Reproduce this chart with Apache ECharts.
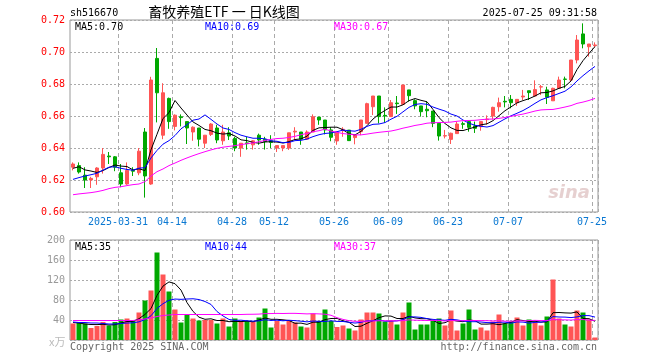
<!DOCTYPE html>
<html><head><meta charset="utf-8">
<script src="https://cdn.jsdelivr.net/npm/echarts@6/dist/echarts.min.js"></script>
<style>html,body{margin:0;padding:0;background:#fff}#c{width:660px;height:360px}</style>
</head><body><div id="c"></div>
<script>
const dates = ['2025-03-19','2025-03-20','2025-03-21','2025-03-24','2025-03-25','2025-03-26','2025-03-27','2025-03-28','2025-03-31',
'2025-04-01','2025-04-02','2025-04-03','2025-04-07','2025-04-08','2025-04-09','2025-04-10','2025-04-11','2025-04-14','2025-04-15','2025-04-16','2025-04-17','2025-04-18','2025-04-21','2025-04-22','2025-04-23','2025-04-24','2025-04-25','2025-04-28','2025-04-29','2025-04-30',
'2025-05-06','2025-05-07','2025-05-08','2025-05-09','2025-05-12','2025-05-13','2025-05-14','2025-05-15','2025-05-16','2025-05-19','2025-05-20','2025-05-21','2025-05-22','2025-05-23','2025-05-26','2025-05-27','2025-05-28','2025-05-29','2025-05-30',
'2025-06-03','2025-06-04','2025-06-05','2025-06-06','2025-06-09','2025-06-10','2025-06-11','2025-06-12','2025-06-13','2025-06-16','2025-06-17','2025-06-18','2025-06-19','2025-06-20','2025-06-23','2025-06-24','2025-06-25','2025-06-26','2025-06-27','2025-06-30',
'2025-07-01','2025-07-02','2025-07-03','2025-07-04','2025-07-07','2025-07-08','2025-07-09','2025-07-10','2025-07-11','2025-07-14','2025-07-15','2025-07-16','2025-07-17','2025-07-18','2025-07-21','2025-07-22','2025-07-23','2025-07-24','2025-07-25'];

const tickDates = ['2025-03-31','2025-04-14','2025-04-28','2025-05-12','2025-05-26','2025-06-09','2025-06-23','2025-07-07','2025-07-25'];
const tickLabels = ['2025-03-31','04-14','04-28','05-12','05-26','06-09','06-23','07-07','07-25'];

const openP = [0.628,0.629,0.623,0.620,0.622,0.6275,0.635,0.6345,0.6245,0.6175,
0.626,0.6245,0.650,0.6175,0.696,0.648,0.671,0.6535,0.6595,0.6565,
0.650,0.6525,0.643,0.6485,0.6525,0.6445,0.6495,0.646,0.640,0.6432,
0.642,0.648,0.6455,0.6445,0.640,0.640,0.640,0.650,0.650,0.6455,
0.650,0.6593,0.6575,0.6513,0.6444,0.6508,0.6512,0.6465,0.6502,0.6554,
0.6658,0.6725,0.6604,0.6596,0.6681,0.6673,0.6763,0.6696,0.6663,0.6642,
0.6631,0.6554,0.6475,0.6454,0.649,0.6552,0.6565,0.6538,0.6533,0.6577,
0.660,0.6658,0.6692,0.6704,0.6683,0.6719,0.6758,0.6725,0.6781,0.6763,
0.6695,0.6773,0.6831,0.6825,0.695,0.7113,0.7033,0.704];
const closeP = [0.630,0.625,0.620,0.621,0.6275,0.636,0.6345,0.628,0.6175,0.626,
0.6255,0.638,0.6225,0.6825,0.6745,0.6745,0.6565,0.6605,0.659,0.6525,
0.653,0.6455,0.648,0.655,0.645,0.650,0.6475,0.640,0.643,0.6427,
0.6445,0.645,0.644,0.6435,0.6415,0.6415,0.6495,0.6505,0.6455,0.650,
0.6595,0.6575,0.6513,0.6467,0.650,0.6517,0.6446,0.6481,0.6575,0.6677,
0.6725,0.6596,0.660,0.6683,0.6677,0.6794,0.6727,0.6663,0.6627,0.6633,
0.6554,0.6475,0.6477,0.6492,0.655,0.6548,0.6529,0.6523,0.6565,0.6581,
0.6654,0.6683,0.6688,0.6683,0.6704,0.6725,0.6746,0.6765,0.6783,0.6717,
0.6773,0.6825,0.6829,0.695,0.7075,0.705,0.705,0.7044];
const lowP = [0.626,0.624,0.615,0.615,0.617,0.624,0.630,0.6255,0.6155,0.617,
0.6225,0.623,0.609,0.617,0.656,0.6455,0.652,0.651,0.6535,0.6425,
0.6445,0.641,0.640,0.6475,0.643,0.642,0.645,0.638,0.6345,0.639,
0.639,0.642,0.639,0.640,0.6375,0.638,0.6388,0.645,0.642,0.645,
0.650,0.6545,0.6485,0.6442,0.642,0.647,0.6445,0.6423,0.648,0.6554,
0.6606,0.6554,0.6558,0.6596,0.6613,0.6673,0.669,0.6642,0.6596,0.6592,
0.653,0.6446,0.646,0.6425,0.649,0.652,0.6502,0.6494,0.6508,0.6546,
0.6579,0.6627,0.6654,0.6648,0.6663,0.670,0.670,0.6725,0.6731,0.6675,
0.6695,0.6773,0.6773,0.6813,0.6929,0.7023,0.6971,0.7029];
const highP = [0.631,0.631,0.628,0.622,0.628,0.640,0.6375,0.635,0.630,0.631,
0.628,0.640,0.6525,0.6845,0.7025,0.6805,0.6715,0.661,0.661,0.6565,
0.6535,0.6525,0.648,0.6555,0.6545,0.6545,0.653,0.647,0.643,0.647,
0.645,0.649,0.647,0.648,0.6415,0.6415,0.6495,0.653,0.650,0.651,
0.661,0.6593,0.6575,0.653,0.650,0.653,0.6512,0.6481,0.6575,0.6683,
0.6725,0.6725,0.6654,0.670,0.6725,0.6794,0.6763,0.6704,0.6663,0.669,
0.6631,0.6554,0.6513,0.6496,0.6565,0.6565,0.6568,0.6565,0.6565,0.6604,
0.6658,0.6715,0.6725,0.6731,0.6704,0.6763,0.6758,0.6823,0.6794,0.6783,
0.6777,0.6846,0.6846,0.695,0.7106,0.7179,0.705,0.706];

const ma5 = [0.6273,0.6283,0.6263,0.6256,0.6247,0.6259,0.6278,0.6294,0.6287,0.6284,
0.6263,0.627,0.6259,0.6389,0.6486,0.6584,0.6621,0.6697,0.665,0.6606,
0.6563,0.6541,0.6516,0.6508,0.6493,0.6487,0.6491,0.6475,0.6451,0.6446,
0.6435,0.643,0.6438,0.6439,0.6437,0.6431,0.644,0.6453,0.6457,0.6474,
0.651,0.6526,0.6528,0.653,0.653,0.6514,0.6489,0.6482,0.6504,0.6539,
0.6581,0.6611,0.6635,0.6656,0.6656,0.667,0.6696,0.6709,0.6698,0.6689,
0.6641,0.659,0.6553,0.6526,0.651,0.6509,0.652,0.6531,0.6545,0.6551,
0.6571,0.6602,0.6633,0.6657,0.6682,0.6696,0.6708,0.6725,0.6745,0.6747,
0.6757,0.6773,0.6785,0.6819,0.689,0.6946,0.6991,0.7034];
const ma10 = [0.6204,0.6215,0.6225,0.6233,0.6242,0.6262,0.628,0.6283,0.6273,0.6266,
0.6261,0.6274,0.6277,0.6338,0.6385,0.6424,0.6446,0.6478,0.652,0.6546,
0.6574,0.6581,0.6607,0.6579,0.655,0.6525,0.6516,0.6496,0.648,0.647,
0.6461,0.6461,0.6457,0.6445,0.6442,0.6433,0.6435,0.6446,0.6448,0.6456,
0.6471,0.6483,0.6491,0.6494,0.6502,0.6512,0.6508,0.6505,0.6517,0.6535,
0.6548,0.655,0.6559,0.658,0.6598,0.6626,0.6654,0.6672,0.6677,0.6673,
0.6656,0.6643,0.6631,0.6612,0.66,0.6575,0.6555,0.6542,0.6536,0.6531,
0.654,0.6561,0.6582,0.6601,0.6617,0.6634,0.6655,0.6679,0.6701,0.6715,
0.6727,0.6741,0.6755,0.6782,0.6819,0.6852,0.6882,0.691];
const ma30 = [0.6108,0.6113,0.6117,0.6121,0.6127,0.6135,0.6146,0.6154,0.6158,0.6165,
0.6171,0.6175,0.619,0.6225,0.6252,0.6269,0.629,0.6306,0.6323,0.6338,
0.6352,0.6365,0.6377,0.6388,0.6398,0.6405,0.641,0.6415,0.6421,0.6427,
0.6432,0.6439,0.6447,0.6454,0.6459,0.6461,0.6466,0.6473,0.6483,0.6491,
0.6502,0.6508,0.6518,0.6506,0.6498,0.649,0.6486,0.6482,0.6482,0.6487,
0.6493,0.6498,0.6502,0.6506,0.6514,0.6524,0.6532,0.6541,0.6547,0.6555,
0.6558,0.6559,0.656,0.6562,0.6567,0.6571,0.6572,0.6573,0.6577,0.658,
0.6581,0.6585,0.6591,0.6598,0.6605,0.6612,0.6621,0.6631,0.6638,0.664,
0.6641,0.6648,0.6656,0.6665,0.6679,0.6687,0.6697,0.671];

const volume = [33,36,33,24,28,36,29,36,41,43,
38,55,79,99,175,131,97,61,35,50,
43,39,40,40,33,43,27,43,38,38,
36,45,63,25,38,31,38,35,27,25,
53,38,61,38,26,29,23,19,41,55,
55,53,37,39,31,55,75,21,31,31,
39,43,29,59,19,33,61,21,25,19,
37,51,33,37,45,29,41,35,29,47,
121,43,31,27,59,55,41,5];
const volMa5 = [35,34,32,31,30.8,31.4,30,30.6,34,37,
37.4,42.6,51.2,62.8,89.2,107.8,116.2,112.6,99.8,74.8,
57.2,45.6,41.4,42.4,39,39,36.6,37.2,36.8,37.8,
36.4,40,44,41.4,41.4,40.4,39,33.4,33.8,31.2,
35.6,35.6,40.8,43,43.2,38.4,35.4,27,27.6,33.4,
38.6,44.6,48.2,47.8,43,43,47.4,44.2,42.6,42.6,
39.4,33,34.6,40.2,37.8,36.6,40.2,38.6,31.8,31.8,
32.6,30.6,33,35.4,40.6,39,37,37.4,35.8,36.2,
54.6,55,54.2,53.8,56.2,43,42.6,37.4];
const volMa10 = [36,35,35,34,34,33,32,32,33,33.9,
34.4,36.3,40.9,48.4,63.1,72.6,79.4,81.9,81.3,82,
82.5,80.9,77,71.1,56.9,48.1,41.1,39.3,39.6,38.4,
37.7,38.3,40.6,39.1,39.6,38.4,39.5,38.7,37.6,36.3,
38,37.3,37.1,38.4,37.2,37,35.5,33.9,35.3,38.3,
38.5,40,37.6,37.7,38.2,40.8,46,46.2,45.2,42.8,
41.2,40.2,39.4,41.4,40.2,38,36.6,36.6,36,34.8,
34.6,35.4,35.8,33.6,36.2,35.8,33.8,35.2,35.6,38.4,
46.8,46,45.8,44.8,46.2,48.8,48.8,45.8];
const volMa30 = [39,39,39,39,39,39,39,39,39,39,
39,40.5,42,44,47,49,50,51,51,51,
51,51,51,51,51,51,51,51,51,51.4,
51.5,51.8,52.8,52.9,53.2,53,53.3,53.3,52.8,52.2,
52.7,52.2,51.6,49.5,44.6,41.2,38.7,37.3,37.5,37.7,
38.1,38.5,38.4,38.4,38.3,38.7,40.3,39.6,39.4,39.1,
39.2,39.2,38,39.2,38.5,38.6,39.4,38.9,38.8,38.6,
38.1,38.5,37.6,37.6,38.2,38.2,38.8,39.3,38.9,38.7,
40.9,40.5,40.3,39.9,40.9,40.9,39.7,39.2];

const UP = '#ff5555', DOWN = '#00a800';
const MONO = '"DejaVu Sans Mono", "Liberation Mono", monospace';
const isTick = (i) => tickDates.indexOf(dates[i]) >= 0;
const candles = dates.map((d, i) => [openP[i], closeP[i], lowP[i], highP[i]]);
const volBars = volume.map((v, i) => ({ value: v, itemStyle: { color: closeP[i] >= openP[i] ? UP : DOWN } }));

const chart = echarts.init(document.getElementById('c'), null, { renderer: 'canvas' });
const gridLine = { show: true, interval: (i) => isTick(i), lineStyle: { color: '#aaaaaa', type: [4, 3], width: 1 } };
const dotted = { show: true, lineStyle: { color: '#aaaaaa', type: [2, 2], width: 1 } };
function line(name, data, color, xi, yi) {
  return { name, type: 'line', data, xAxisIndex: xi, yAxisIndex: yi, symbol: 'none', silent: true,
    lineStyle: { color, width: 1 }, itemStyle: { color }, z: 5 };
}
function txt(text, x, y, fill, align, font) {
  return { type: 'text', silent: true, z: 100, style: { text, x, y, fill, textAlign: align || 'left', textVerticalAlign: 'middle', font: font || ('10px ' + MONO) } };
}
chart.setOption({
  animation: false,
  backgroundColor: '#ffffff',
  grid: [
    { left: 70, top: 20, width: 528, height: 192, show: true, borderColor: '#999', borderWidth: 1, backgroundColor: 'transparent' },
    { left: 70, top: 240, width: 528, height: 100, show: true, borderColor: '#999', borderWidth: 1, backgroundColor: 'transparent' }
  ],
  xAxis: [
    { type: 'category', gridIndex: 0, data: dates, boundaryGap: true,
      axisLine: { show: false }, axisTick: { show: false },
      axisLabel: { interval: (i) => isTick(i), formatter: (v) => tickLabels[tickDates.indexOf(v)], color: '#0a78d2', fontFamily: MONO, fontSize: 10, margin: 5, padding: [0, 6, 0, 0] },
      splitLine: gridLine },
    { type: 'category', gridIndex: 1, data: dates, boundaryGap: true,
      axisLine: { show: false }, axisTick: { show: false }, axisLabel: { show: false },
      splitLine: gridLine }
  ],
  yAxis: [
    { type: 'value', gridIndex: 0, min: 0.60, max: 0.72, interval: 0.02, scale: true,
      axisLine: { show: false }, axisTick: { show: false },
      axisLabel: { color: '#ff0000', fontFamily: MONO, fontSize: 10, margin: 5, formatter: (v) => v.toFixed(2) },
      splitLine: dotted },
    { type: 'value', gridIndex: 1, min: 0, max: 200, interval: 40,
      axisLine: { show: false }, axisTick: { show: false },
      axisLabel: { color: '#999999', fontFamily: MONO, fontSize: 10, margin: 5, formatter: (v) => v === 0 ? '' : String(v) },
      splitLine: dotted }
  ],
  series: [
    { name: 'K', type: 'candlestick', xAxisIndex: 0, yAxisIndex: 0, data: candles, barWidth: 4, silent: true,
      itemStyle: { color: UP, color0: DOWN, borderColor: UP, borderColor0: DOWN, borderWidth: 1 }, z: 3 },
    line('MA5', ma5, '#000000', 0, 0),
    line('MA10', ma10, '#0000ff', 0, 0),
    line('MA30', ma30, '#ff00ff', 0, 0),
    { name: 'VOL', type: 'bar', xAxisIndex: 1, yAxisIndex: 1, data: volBars, barWidth: 5, silent: true, z: 3 },
    line('VMA5', volMa5, '#000000', 1, 1),
    line('VMA10', volMa10, '#0000ff', 1, 1),
    line('VMA30', volMa30, '#ff00ff', 1, 1)
  ],
  graphic: [
    txt('sh516670', 70, 13, '#000000'),
    txt('畜牧养殖ETF 一 日K线图', 224, 12, '#000000', 'center', '14px "Noto Sans CJK SC"'),
    txt('2025-07-25 09:31:58', 597, 13, '#000000', 'right'),
    txt('MA5:0.70', 75, 27, '#000000'),
    txt('MA10:0.69', 205, 27, '#0000ff'),
    txt('MA30:0.67', 334, 27, '#ff00ff'),
    txt('MA5:35', 75, 247, '#000000'),
    txt('MA10:44', 205, 247, '#0000ff'),
    txt('MA30:37', 334, 247, '#ff00ff'),
    txt('x万', 49, 342, '#bbbbbb', 'left', '11px "Noto Sans CJK SC"'),
    txt('Copyright 2025 SINA.COM', 70, 347, '#666666'),
    txt('http://finance.sina.com.cn', 597, 347, '#666666', 'right'),
    txt('sina', 590, 193, 'rgba(200,150,150,0.45)', 'right', 'italic bold 18px "DejaVu Sans"')
  ]
});
</script></body></html>
